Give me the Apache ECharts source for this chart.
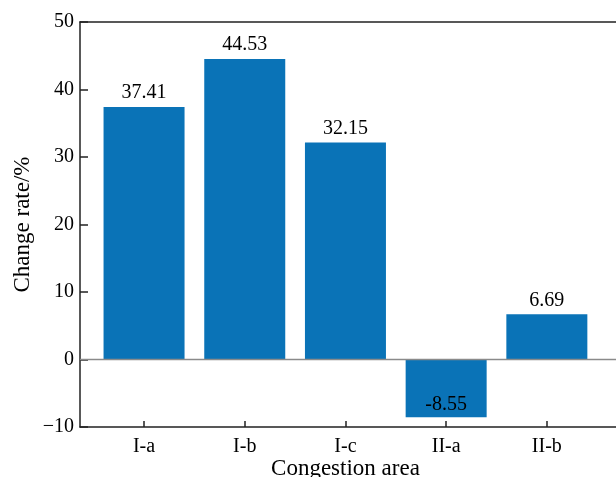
<!DOCTYPE html>
<html>
<head>
<meta charset="utf-8">
<script src="https://cdn.jsdelivr.net/npm/echarts@6/dist/echarts.min.js"></script>
<style>html,body{margin:0;padding:0;background:#fff}#c{width:616px;height:477px}</style>
</head>
<body>
<div id="c"></div>
<script>
const categories = ['I-a', 'I-b', 'I-c', 'II-a', 'II-b'];
const changeRate = [37.41, 44.53, 32.15, -8.55, 6.69];
const yTicks = { min: -10, max: 50, interval: 10 };
const zeroLine = [[0, 0], [1, 0]];

const FONT = "'Liberation Serif', 'Times New Roman', serif";
const AX = { color: '#222', width: 1.5 };

const chart = echarts.init(document.getElementById('c'), null, { renderer: 'canvas' });
chart.setOption({
  animation: false,
  backgroundColor: '#fff',
  grid: [
    { left: 80, right: 0, top: 22, bottom: 50, containLabel: false, outerBoundsMode: 'none' },
    { left: 93.7, width: 503.5, top: 22, bottom: 50, containLabel: false, outerBoundsMode: 'none' }
  ],
  xAxis: [
    { type: 'value', gridIndex: 0, min: 0, max: 1, position: 'bottom',
      axisLine: { show: true, onZero: false, lineStyle: AX },
      axisTick: { show: false }, axisLabel: { show: false }, splitLine: { show: false } },
    { type: 'value', gridIndex: 0, min: 0, max: 1, position: 'top',
      axisLine: { show: true, onZero: false, lineStyle: AX },
      axisTick: { show: false }, axisLabel: { show: false }, splitLine: { show: false } },
    { type: 'category', gridIndex: 1, data: categories, position: 'bottom',
      axisLine: { show: false, onZero: false },
      axisTick: { show: true, inside: true, length: 6, alignWithLabel: true, lineStyle: AX },
      axisLabel: { color: '#000', fontFamily: FONT, fontSize: 20, margin: 10 },
      name: 'Congestion area', nameLocation: 'middle', nameGap: 30, nameMoveOverlap: false,
      nameTextStyle: { color: '#000', fontFamily: FONT, fontSize: 23 } }
  ],
  yAxis: [
    { type: 'value', gridIndex: 0, min: yTicks.min, max: yTicks.max, interval: yTicks.interval,
      axisLine: { show: true, onZero: false, lineStyle: AX },
      axisTick: { show: true, inside: true, length: 8, lineStyle: AX },
      axisLabel: { color: '#000', fontFamily: FONT, fontSize: 20, margin: 6,
        formatter: v => (v < 0 ? '\u2212' + Math.abs(v) : String(v)) },
      splitLine: { show: false },
      name: 'Change rate/%', nameLocation: 'middle', nameGap: 46, nameMoveOverlap: false,
      nameTextStyle: { color: '#000', fontFamily: FONT, fontSize: 23 } },
    { type: 'value', gridIndex: 1, min: yTicks.min, max: yTicks.max, interval: yTicks.interval,
      show: false, splitLine: { show: false } }
  ],
  series: [
    { type: 'line', xAxisIndex: 0, yAxisIndex: 0, data: zeroLine, symbol: 'none',
      lineStyle: { color: '#8a8a8a', width: 1.5 }, silent: true, z: 3 },
    { type: 'bar', xAxisIndex: 2, yAxisIndex: 1, barWidth: 81,
      itemStyle: { color: '#0a73b7' },
      label: { show: true, position: 'top', distance: 4, color: '#000', fontFamily: FONT, fontSize: 20 },
      data: changeRate.map(v => v < 0
        ? { value: v, label: { position: 'insideBottom', distance: 2 } }
        : v),
      z: 2 }
  ]
});
</script>
</body>
</html>
